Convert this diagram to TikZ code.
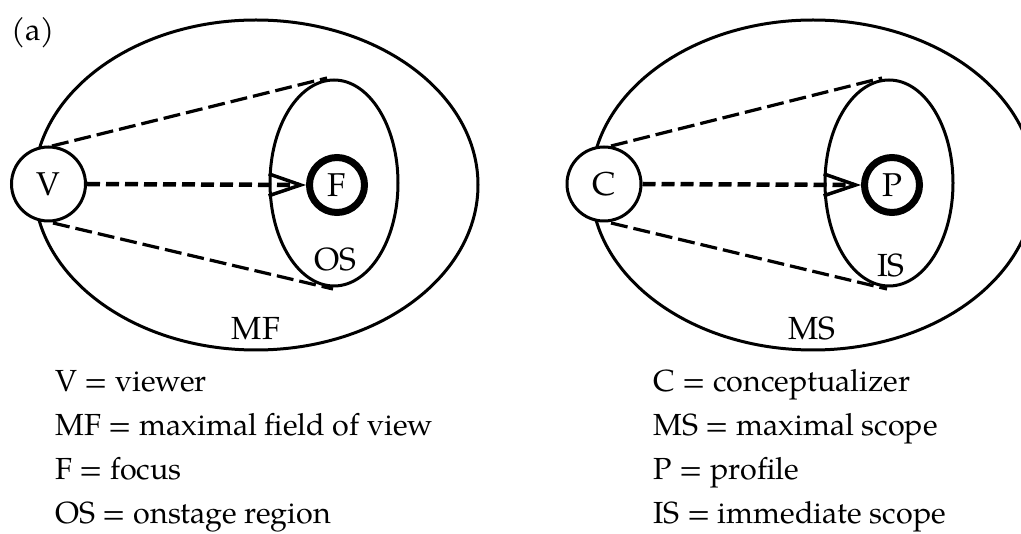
\documentclass[tikz,border=0pt]{standalone}
\usepackage{fontspec}
\setmainfont{TeX Gyre Pagella}
\usetikzlibrary{shapes.geometric,arrows.meta}
\tikzset{
  big/.style={draw,ellipse,line width=3pt,minimum width=444pt,minimum height=330pt,inner sep=0pt},
  inner/.style={draw,ellipse,line width=3pt,minimum width=128pt,minimum height=206pt,inner sep=0pt},
  agent/.style={draw,circle,line width=3pt,minimum size=74pt,inner sep=0pt,font=\fontsize{33}{38}\selectfont},
  target/.style={draw,circle,line width=7pt,minimum size=55pt,inner sep=0pt,font=\fontsize{33}{38}\selectfont},
  lbl/.style={inner sep=0pt,anchor=base,font=\fontsize{32}{38}\selectfont},
  legend/.style={inner sep=0pt,anchor=base west,font=\fontsize{30.5}{36}\selectfont},
  side/.style={line width=3.2pt,dash pattern=on 17pt off 6pt},
  gaze/.style={line width=4.5pt,dash pattern=on 13pt off 6pt,-{Straight Barb[length=32pt,width=22pt,line width=3.5pt]}},
}
\begin{document}
\begin{tikzpicture}[x=1pt,y=-1pt]
\useasboundingbox (0,0) rectangle (1021,534);
% (a)
\node[inner sep=0pt,anchor=base west,font=\fontsize{31}{36}\selectfont] (lab) at (11,41) {(a)};
% left diagram
\node[big] (MF) at (256,185) {};
\node[inner] (OS) at (334,183) {};
\node[agent,fill=white] (V) at (48.5,184) {V};
\node[target] (F) at (337,185) {F};
\coordinate (vt) at (52,146);
\coordinate (vb) at (53,223);
\coordinate (ot) at (327,78);
\coordinate (ob) at (333,289);
\draw[side] (vt) -- (ot);
\draw[side] (vb) -- (ob);
\draw[gaze] (V.east) -- (F.west);
\node[lbl] (OSl) at (335,271) {OS};
\node[lbl] (MFl) at (256,340) {MF};
% right diagram
\node[big] (MS) at (813,185) {};
\node[inner] (IS) at (889,183) {};
\node[agent,fill=white] (C) at (604,184) {C};
\node[target] (P) at (892,185) {P};
\coordinate (ct) at (611,146);
\coordinate (cb) at (611,223);
\coordinate (it) at (882,78);
\coordinate (ib) at (887,289);
\draw[side] (ct) -- (it);
\draw[side] (cb) -- (ib);
\draw[gaze] (C.east) -- (P.west);
\node[lbl] (ISl) at (891,277) {IS};
\node[lbl] (MSl) at (812,340) {MS};
% legends
\node[legend] (l1) at (55,392) {V = viewer};
\node[legend] (l2) at (55,436) {MF = maximal field of view};
\node[legend] (l3) at (55,480) {F = focus};
\node[legend] (l4) at (55,524) {OS = onstage region};
\node[legend] (r1) at (653,392) {C = conceptualizer};
\node[legend] (r2) at (653,436) {MS = maximal scope};
\node[legend] (r3) at (653,480) {P = profile};
\node[legend] (r4) at (653,524) {IS = immediate scope};
\end{tikzpicture}
\end{document}
